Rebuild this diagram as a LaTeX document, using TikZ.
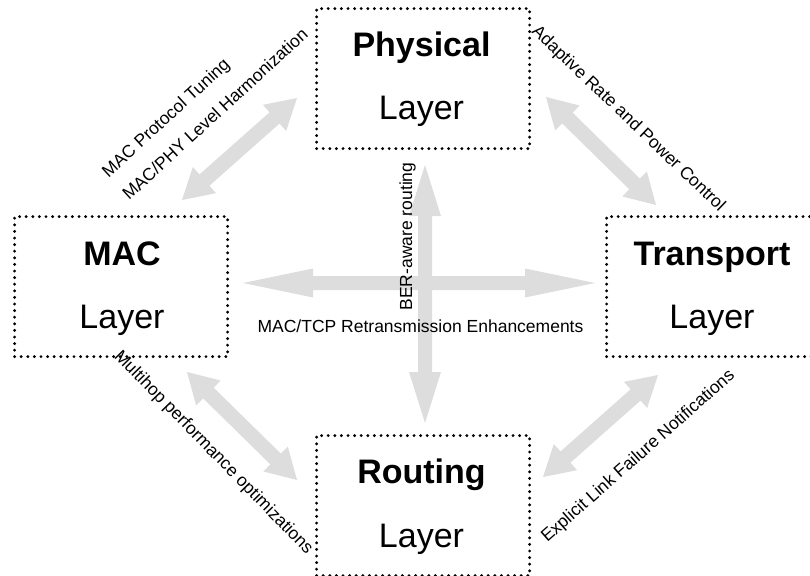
\documentclass[tikz,border=0pt]{standalone}
\usepackage{fontspec}
\setmainfont{Liberation Sans}
\usetikzlibrary{calc}
\definecolor{arrowgray}{RGB}{221,221,221}
\tikzset{
  layerbox/.style={draw, line width=3.2pt, dash pattern=on 0pt off 6.6pt,
    line cap=round, minimum width=213pt, minimum height=140pt,
    inner sep=0pt, anchor=north west},
  titletext/.style={anchor=base, inner sep=0pt,
    font=\fontsize{34}{40}\selectfont\bfseries},
  layertext/.style={anchor=base, inner sep=0pt,
    font=\fontsize{34}{40}\selectfont},
  linktext/.style={anchor=base, inner sep=0pt,
    font=\fontsize{17.5}{21}\selectfont},
  linkarrow/.style={fill=arrowgray},
}
% Wide double-headed block arrow between two named tips:
% #1, #2 tips; #3 head length; #4 head half width; #5 shaft half width
\newcommand{\fatarrow}[5]{%
  \coordinate (fa-h1) at ($(#1)!#3!(#2)$);
  \coordinate (fa-h2) at ($(#2)!#3!(#1)$);
  \fill[linkarrow] (#1)
    -- ($(fa-h1)!#4!90:(#2)$) -- ($(fa-h1)!#5!90:(#2)$)
    -- ($(fa-h2)!#5!-90:(#1)$) -- ($(fa-h2)!#4!-90:(#1)$)
    -- (#2)
    -- ($(fa-h2)!#4!90:(#1)$) -- ($(fa-h2)!#5!90:(#1)$)
    -- ($(fa-h1)!#5!-90:(#2)$) -- ($(fa-h1)!#4!-90:(#2)$)
    -- cycle;
}
\begin{document}
\begin{tikzpicture}[x=1pt, y=-1pt]
  \useasboundingbox (0,0) rectangle (810,575);
  \clip (0,0) rectangle (810,575);

  % arrow tips
  \coordinate (hL) at (243,283);
  \coordinate (hR) at (595,283);
  \coordinate (vT) at (425,165);
  \coordinate (vB) at (425,423);
  \coordinate (ulA) at (182,200);
  \coordinate (ulB) at (297,98);
  \coordinate (urA) at (546,97);
  \coordinate (urB) at (656,205);
  \coordinate (llA) at (187,372);
  \coordinate (llB) at (297,480);
  \coordinate (lrA) at (658,375);
  \coordinate (lrB) at (543,477);

  % block arrows
  \fatarrow{hL}{hR}{70pt}{14.5pt}{7pt}
  \fatarrow{vT}{vB}{51pt}{16pt}{7pt}
  \fatarrow{ulA}{ulB}{30pt}{17.5pt}{7.5pt}
  \fatarrow{urA}{urB}{30pt}{17.5pt}{7.5pt}
  \fatarrow{llA}{llB}{30pt}{17.5pt}{7.5pt}
  \fatarrow{lrA}{lrB}{30pt}{17.5pt}{7.5pt}

  % layer boxes
  \node[layerbox] (phy) at (315,7) {};
  \node[layerbox] (mac) at (13,215) {};
  \node[layerbox] (trn) at (605,215) {};
  \node[layerbox] (rtg) at (315,434) {};

  % layer names
  \node[titletext] (phyT) at (421.5,57) {Physical};
  \node[layertext] (phyL) at (421.5,120) {Layer};
  \node[titletext] (macT) at (122,265) {MAC};
  \node[layertext] (macL) at (122,328) {Layer};
  \node[titletext] (trnT) at (712,265) {Transport};
  \node[layertext] (trnL) at (712,328) {Layer};
  \node[titletext] (rtgT) at (421.5,483) {Routing};
  \node[layertext] (rtgL) at (421.5,547) {Layer};

  % cross-layer interaction labels
  \node[linktext, rotate=42.5] (l1) at (169.6,122.1) {MAC Protocol Tuning};
  \node[linktext, rotate=42.5] (l2) at (219,118.4) {MAC/PHY Level Harmonization};
  \node[linktext, rotate=-43.7] (l3) at (625,122.4) {Adaptive Rate and Power Control};
  \node[linktext, rotate=-45.7] (l4) at (210,455.9) {Multihop performance optimizations};
  \node[linktext, rotate=41.4] (l5) at (641.4,460) {Explicit Link Failure Notifications};
  \node[linktext, rotate=90] (l6) at (412,236.5) {BER-aware routing};
  \node[linktext] (l7) at (420.5,332) {MAC/TCP Retransmission Enhancements};
\end{tikzpicture}
\end{document}
